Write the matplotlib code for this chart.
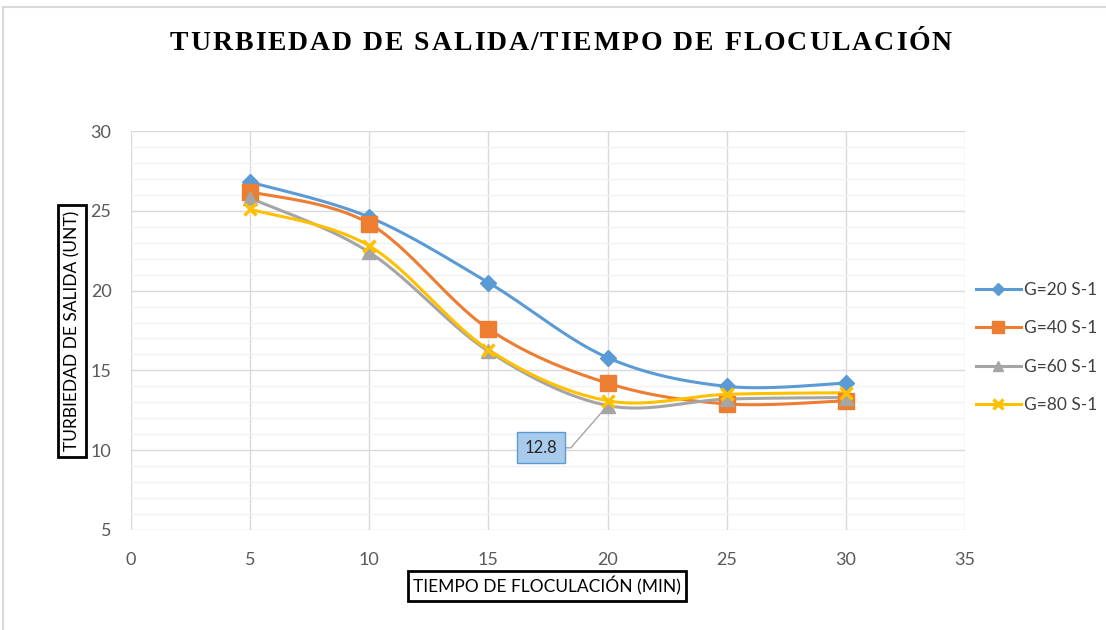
import numpy as np
from matplotlib import pyplot as plt
from matplotlib.lines import Line2D
from matplotlib.patches import Rectangle
from matplotlib.ticker import MultipleLocator

# tiempo de floculación (min) y turbiedad de salida (UNT) por gradiente
tiempo = [5, 10, 15, 20, 25, 30]
g20 = [26.8, 24.6, 20.5, 15.8, 14.0, 14.2]
g40 = [26.2, 24.2, 17.6, 14.2, 12.9, 13.1]
g60 = [25.8, 22.4, 16.2, 12.8, 13.2, 13.3]
g80 = [25.1, 22.8, 16.3, 13.1, 13.5, 13.6]
series = ["G=20 S-1", "G=40 S-1", "G=60 S-1", "G=80 S-1"]
xticks = [0, 5, 10, 15, 20, 25, 30, 35]
yticks = [5, 10, 15, 20, 25, 30]

colores = ['#5b9bd5', '#ed7d31', '#a5a5a5', '#ffc000']
marcadores = [('D', 8.5, 1), ('s', 11, 1), ('^', 10, 1), ('x', 9, 2.5)]


def suavizar(x, y, n=30):
    # curva suavizada tipo Excel: bezier cubica con puntos de control de los vecinos
    x = np.asarray(x, float)
    y = np.asarray(y, float)
    px = np.concatenate([[x[0]], x, [x[-1]]])
    py = np.concatenate([[y[0]], y, [y[-1]]])
    t = np.linspace(0, 1, n)[:, None]
    xs, ys = [], []
    for i in range(1, len(px) - 2):
        p0 = np.array([px[i], py[i]])
        p3 = np.array([px[i + 1], py[i + 1]])
        c1 = p0 + (np.array([px[i + 1], py[i + 1]]) - np.array([px[i - 1], py[i - 1]])) / 6
        c2 = p3 - (np.array([px[i + 2], py[i + 2]]) - np.array([px[i], py[i]])) / 6
        b = (1 - t) ** 3 * p0 + 3 * (1 - t) ** 2 * t * c1 + 3 * (1 - t) * t ** 2 * c2 + t ** 3 * p3
        xs.extend(b[:, 0])
        ys.extend(b[:, 1])
    return xs, ys


fig = plt.figure(figsize=(11.06, 6.30), dpi=100)
ax = fig.add_axes([131 / 1106, 1 - 530 / 630, (965 - 131) / 1106, (530 - 131) / 630])

# marco exterior del grafico
fig.patches.append(Rectangle((3 / 1106, -0.02), 1.02, 1 - 7 / 630 + 0.02, transform=fig.transFigure,
                             fill=False, edgecolor='#d9d9d9', lw=1.5))

for datos, col, (m, ms, mew), nombre in zip([g20, g40, g60, g80], colores, marcadores, series):
    sx, sy = suavizar(tiempo, datos)
    ax.plot(sx, sy, color=col, lw=2.2, solid_capstyle='round', zorder=3)
    ax.plot(tiempo, datos, linestyle='none', marker=m, markersize=ms, markeredgewidth=mew,
            color=col, markeredgecolor=col, zorder=4)

ax.set_xlim(0, 35)
ax.set_ylim(5, 30)
ax.set_xticks(xticks)
ax.set_yticks(yticks)
ax.yaxis.set_minor_locator(MultipleLocator(1))
ax.grid(which='major', color='#d9d9d9', lw=1)
ax.grid(which='minor', axis='y', color='#f2f2f2', lw=1)
ax.set_axisbelow(True)
for s in ax.spines.values():
    s.set_visible(False)
ax.tick_params(which='both', length=0)
ax.tick_params(axis='y', pad=14, labelsize=13, labelcolor='#595959')
ax.tick_params(axis='x', pad=16, labelsize=13, labelcolor='#595959')
for lab in ax.get_xticklabels() + ax.get_yticklabels():
    lab.set_fontfamily('Lato')

# etiqueta del punto minimo de G=60
ax.annotate(f"{g60[3]}", xy=(tiempo[3], g60[3]), xytext=(17.2, 10.15),
            ha='center', va='center', fontsize=12, family='Lato', color='#262626',
            bbox=dict(boxstyle='square,pad=0.45', facecolor='#a9cbeb', edgecolor='#5b9bd5', lw=1),
            arrowprops=dict(arrowstyle='-', color='#a6a6a6', lw=1, shrinkA=0, shrinkB=5,
                            connectionstyle='angle,angleA=0,angleB=49,rad=0'),
            zorder=5)

# titulos de ejes con recuadro
fig.text(72 / 1106, 1 - 331 / 630, "TURBIEDAD DE SALIDA (UNT)", rotation=90, ha='center', va='center',
         fontsize=12.5, family='Lato', color='black',
         bbox=dict(boxstyle='square,pad=0.35', facecolor='white', edgecolor='black', lw=2))
fig.text(547 / 1106, 1 - 586 / 630, "TIEMPO DE FLOCULACIÓN (MIN)", ha='center', va='center',
         fontsize=12.5, family='Lato', color='black',
         bbox=dict(boxstyle='square,pad=0.3', facecolor='white', edgecolor='black', lw=2))

# leyenda
handles = [Line2D([], [], color=c, lw=2.2, marker=m, markersize=ms * 0.75, markeredgewidth=mew)
           for c, (m, ms, mew) in zip(colores, marcadores)]
fig.legend(handles, series, loc='upper left', bbox_to_anchor=(960 / 1106, 1 - 266 / 630),
           frameon=False, prop={'family': 'Lato', 'size': 12.5}, handlelength=2.6,
           handletextpad=0.2, labelspacing=1.3, labelcolor='#404040')

# titulo con espaciado entre letras
titulo = "TURBIEDAD DE SALIDA/TIEMPO DE FLOCULACIÓN"
kw = dict(fontsize=20, family='Liberation Serif', weight='bold', color='black', va='baseline')
renderer = fig.canvas.get_renderer()


def ancho(s):
    t = fig.text(0, 0, s, **kw)
    w = t.get_window_extent(renderer).width
    t.remove()
    return w


wx = ancho("X")
pos = [ancho(titulo[:i] + "X") - wx for i in range(len(titulo))]
natural = ancho(titulo)
extra = (782 - natural) / (len(titulo) - 1)
x0 = 170
for i, ch in enumerate(titulo):
    if ch != ' ':
        fig.text((x0 + pos[i] + i * extra) / 1106, 1 - 50 / 630, ch, **kw)

fig.savefig('out.png', dpi=100)
